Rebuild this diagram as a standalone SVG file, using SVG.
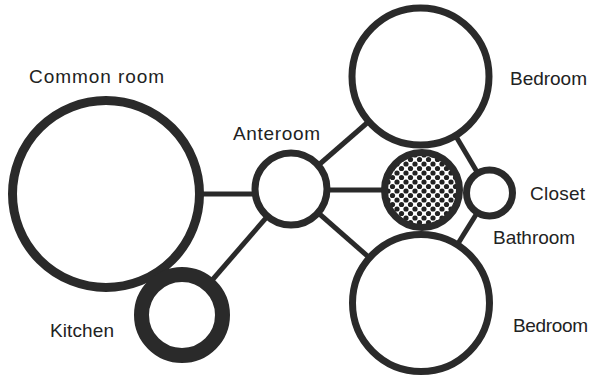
<svg xmlns="http://www.w3.org/2000/svg" width="590" height="378" viewBox="0 0 590 378">
<style>
.room{fill:#fff;stroke:#2a2a2a;stroke-width:7}
.link{stroke:#2a2a2a;stroke-width:5;fill:none}
.lbl{font-family:"Liberation Sans",Arial,sans-serif;font-size:19px;fill:#222}
.dot{fill:#222}
</style>
<defs>
<pattern id="dots" patternUnits="userSpaceOnUse" x="1" y="2" width="9" height="9">
<rect width="9" height="9" fill="#fff"/>
<circle class="dot" cx="0" cy="0" r="2.6"/>
<circle class="dot" cx="9" cy="0" r="2.6"/>
<circle class="dot" cx="0" cy="9" r="2.6"/>
<circle class="dot" cx="9" cy="9" r="2.6"/>
<circle class="dot" cx="4.5" cy="4.5" r="2.6"/>
</pattern>
</defs>
<rect width="590" height="378" fill="#fff"/>
<g id="connectors">
<line class="link" x1="106" y1="194" x2="291" y2="194"/>
<line class="link" x1="182" y1="315" x2="291" y2="189"/>
<line class="link" x1="291" y1="189" x2="420.5" y2="76.5"/>
<line class="link" x1="291" y1="190" x2="422" y2="190"/>
<line class="link" x1="291" y1="189" x2="421" y2="303"/>
<line class="link" x1="420.5" y1="76.5" x2="489.5" y2="193"/>
<line class="link" x1="421" y1="303" x2="489.5" y2="193"/>
</g>
<g id="common-room">
<circle class="room" cx="106" cy="194" r="93.5" style="stroke-width:9"/>
<text class="lbl" x="29" y="83" textLength="135">Common room</text>
</g>
<g id="kitchen">
<circle class="room" cx="182" cy="315" r="40.5" style="stroke-width:15"/>
<text class="lbl" x="50" y="337" textLength="64">Kitchen</text>
</g>
<g id="anteroom">
<circle class="room" cx="291" cy="189" r="36"/>
<text class="lbl" x="233" y="140" textLength="87">Anteroom</text>
</g>
<g id="bedroom-top">
<circle class="room" cx="420.5" cy="76.5" r="68.5"/>
<text class="lbl" x="510" y="85" textLength="77">Bedroom</text>
</g>
<g id="bedroom-bottom">
<circle class="room" cx="421" cy="303" r="68.5"/>
<text class="lbl" x="513" y="332" textLength="75">Bedroom</text>
</g>
<g id="bathroom">
<circle class="room" cx="422" cy="190" r="37.5" style="fill:url(#dots)"/>
<text class="lbl" x="493" y="244" textLength="82">Bathroom</text>
</g>
<g id="closet">
<circle class="room" cx="489.5" cy="193" r="23"/>
<text class="lbl" x="530" y="200" textLength="55">Closet</text>
</g>
</svg>
